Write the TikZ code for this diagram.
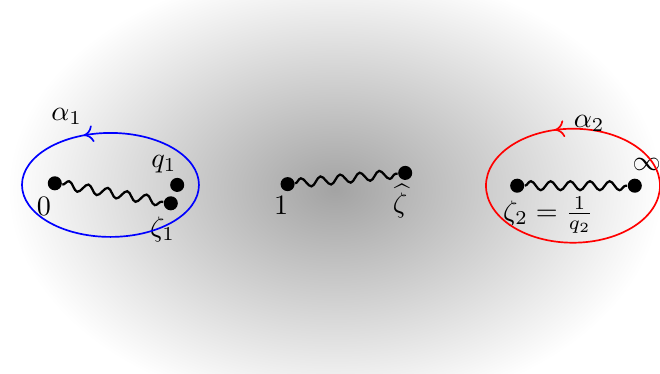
\documentclass[tikz,border=0pt]{standalone}
\usepackage{amsmath}
\usetikzlibrary{arrows.meta,decorations.pathmorphing,decorations.markings}
\tikzset{
    cut diagram/.style = {>={To[length=3.4pt,width=6pt]}},
    puncture/.style    = {circle, fill, inner sep=0pt, minimum size=5pt},
    branch cut/.style  = {thick, decorate,
                          decoration={snake, segment length=7pt,
                                      amplitude=1.6pt}},
    lbl/.style         = {inner sep=0pt},
    acycle/.style      = {semithick, postaction={decorate},
                          decoration={markings,
                                      mark=at position #1 with {\arrow{>}}}},
    acycle/.default    = 0.28
}

\begin{document}
\begin{tikzpicture}[cut diagram]

\useasboundingbox (-4.125,-2.33125) rectangle (4.125,2.33125);

% ================= Sphere =================
\shade[inner color=gray!72, outer color=white]
    (0.06,-0.04) ellipse [x radius=4.09, y radius=2.8];

% ================= Punctures =================
\node[puncture] (P0)  at (-3.44, 0.04) {};
\node[puncture] (Q1)  at (-1.91, 0.02) {};
\node[puncture] (Z1)  at (-1.99,-0.21) {};
\node[puncture] (P1)  at (-0.53, 0.03) {};
\node[puncture] (ZH)  at ( 0.94, 0.17) {};
\node[puncture] (Z2)  at ( 2.34, 0.01) {};
\node[puncture] (Inf) at ( 3.81, 0.01) {};

\node[lbl] (t0)   at (-3.575,-0.25) {$0$};
\node[lbl] (tq1)  at (-2.075, 0.28) {$q_1$};
\node[lbl] (tz1)  at (-2.094,-0.534) {$\zeta_1$};
\node[lbl] (t1)   at (-0.61,-0.231) {$1$};
\node[lbl] (tzh)  at ( 0.875,-0.18) {$\widehat{\zeta}$};
\node[lbl] (tz2)  at ( 2.73,-0.356) {$\zeta_2=\frac{1}{q_2}$};
\node[lbl] (tinf) at ( 3.96, 0.27) {$\infty$};

% ================= Branch cuts =================
\draw[branch cut] (P0) -- (Z1);
\draw[branch cut] (P1) -- (ZH);
\draw[branch cut] (Z2) -- (Inf);

% ================= Cycles =================
\coordinate (A1) at (-2.744, 0.02);
\coordinate (A2) at ( 3.0375, 0.01);
\draw[acycle=0.31, blue] (A1) ellipse [x radius=1.106, y radius=0.65];
\draw[acycle=0.29, red]  (A2) ellipse [x radius=1.0875, y radius=0.7125];
\node[lbl] (a1) at (-3.29, 0.88) {$\alpha_1$};
\node[lbl] (a2) at ( 3.24, 0.79) {$\alpha_2$};

\end{tikzpicture}
\end{document}
